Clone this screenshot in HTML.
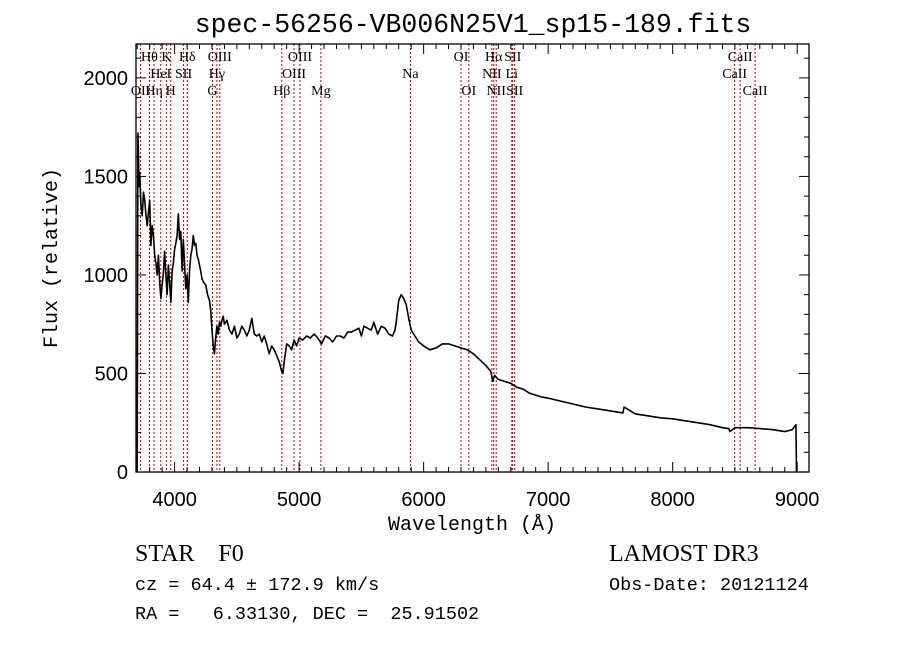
<!DOCTYPE html>
<html><head><meta charset="utf-8"><style>
html,body{margin:0;padding:0;background:#fff;}
svg{display:block;}
text{font-family:"Liberation Serif",serif;fill:#000;white-space:pre;}
</style></head><body>
<svg id="chart" width="900" height="649" viewBox="0 0 900 649" xmlns="http://www.w3.org/2000/svg" xml:space="preserve">
<rect x="0" y="0" width="900" height="649" fill="#fff"/>
<text x="473" y="32" font-size="26.5" text-anchor="middle" style="font-family:'Liberation Mono',monospace">spec-56256-VB006N25V1_sp15-189.fits</text>
<g id="lines"></g>
<g id="spec"></g>
<g id="axes"></g>
<text x="472" y="530" font-size="20" text-anchor="middle" style="font-family:'Liberation Mono',monospace">Wavelength (Å)</text>
<text transform="translate(57,258) rotate(-90)" font-size="20" text-anchor="middle" style="font-family:'Liberation Mono',monospace">Flux (relative)</text>
<text x="135" y="561" font-size="24">STAR    F0</text>
<text x="135" y="590" font-size="18.5" style="font-family:'Liberation Mono',monospace">cz = 64.4 ± 172.9 km/s</text>
<text x="135" y="619" font-size="18.5" style="font-family:'Liberation Mono',monospace">RA =   6.33130, DEC =  25.91502</text>
<text x="609" y="561" font-size="24">LAMOST DR3</text>
<text x="609" y="590" font-size="18.5" style="font-family:'Liberation Mono',monospace">Obs-Date: 20121124</text>
</svg>
<script>
const wavelengths=[3700,3705,3710,3715,3720,3730,3740,3750,3760,3770,3780,3790,3800,3810,3820,3830,3840,3850,3860,3870,3880,3890,3900,3910,3920,3930,3940,3950,3960,3970,3980,3990,4000,4010,4020,4030,4040,4050,4060,4070,4080,4090,4100,4110,4120,4130,4140,4150,4160,4170,4180,4190,4200,4210,4220,4235,4250,4265,4280,4290,4300,4310,4320,4330,4340,4350,4360,4370,4380,4390,4400,4420,4440,4460,4480,4500,4520,4540,4560,4580,4600,4620,4640,4660,4680,4700,4720,4740,4760,4780,4800,4820,4840,4860,4870,4880,4900,4920,4940,4960,4980,5000,5030,5060,5090,5120,5150,5180,5210,5240,5270,5300,5330,5360,5390,5420,5450,5480,5500,5520,5550,5580,5600,5630,5660,5690,5720,5750,5770,5780,5800,5820,5840,5860,5880,5900,5930,5960,6000,6050,6100,6150,6200,6250,6300,6350,6400,6450,6500,6540,6555,6570,6600,6650,6700,6750,6800,6850,6900,6950,7000,7100,7200,7300,7400,7500,7600,7610,7700,7800,7900,8000,8100,8200,8300,8400,8450,8460,8500,8600,8700,8800,8900,8960,8990,8995];
const fluxes=[0,1720,1600,1450,1520,1350,1300,1420,1380,1300,1250,1320,1380,1150,1250,1200,1100,1060,1000,1100,960,880,950,1010,1120,1000,900,1050,960,860,1020,1060,1130,1160,1200,1310,1180,1220,1020,1180,1050,930,1000,860,1020,1100,1130,1200,1150,1160,1100,1080,1050,1020,980,960,950,900,870,820,720,640,600,680,740,700,760,740,770,790,750,770,720,700,740,680,700,740,720,690,720,780,700,690,700,660,690,650,600,640,620,590,560,510,500,560,650,640,620,670,640,680,670,690,680,700,680,650,690,680,660,690,690,680,710,710,720,730,690,740,730,720,760,700,740,730,700,690,720,760,870,900,880,850,780,720,690,660,640,620,630,650,650,640,630,620,600,570,540,510,460,490,470,460,450,430,420,400,390,380,375,360,345,330,320,310,300,330,295,285,275,270,260,250,240,225,220,205,225,225,220,215,205,215,240,0];
const xTicks=[4000,5000,6000,7000,8000,9000];
const yTicks=[0,500,1000,1500,2000];
const lineWaves=[3727,3798,3835,3889,3934,3969,4072,4102,4304,4340,4363,4861,4959,5007,5175,5894,6300,6363,6548,6563,6583,6708,6716,6731,8498,8542,8662];
const lineLabels=[
 ["OII",3727,2],["Hθ",3798,0],["Hη",3835,2],["HeI",3889,1],["K",3934,0],["H",3969,2],["SII",4072,1],["Hδ",4102,0],
 ["G",4304,2],["Hγ",4340,1],["OIII",4363,0],["Hβ",4861,2],["OIII",4959,1],["OIII",5007,0],["Mg",5175,2],["Na",5894,1],
 ["OI",6300,0],["OI",6363,2],["NII",6548,1],["Hα",6563,0],["NII",6583,2],["Li",6708,1],["SII",6716,0],["SII",6731,2],
 ["CaII",8498,1],["CaII",8542,0],["CaII",8662,2]];
const X0=136,X1=809,Y0=44,Y1=472,WMIN=3690,WMAX=9095,FMAX=2172;
const sx=w=>X0+(w-WMIN)/(WMAX-WMIN)*(X1-X0);
const sy=f=>Y1-f/FMAX*(Y1-Y0);
const NS="http://www.w3.org/2000/svg";
function mk(tag,attrs,parent){const e=document.createElementNS(NS,tag);for(const k in attrs)e.setAttribute(k,attrs[k]);parent.appendChild(e);return e;}
const gL=document.getElementById('lines'),gS=document.getElementById('spec'),gA=document.getElementById('axes');
lineWaves.forEach(w=>{const l=mk('line',{x1:sx(w),x2:sx(w),y1:Y0,y2:Y1,stroke:'#c00000','stroke-width':1,'stroke-dasharray':'2,2'},gL);

});
const rowY=[61,78,95];
lineLabels.forEach(d=>{const t=mk('text',{x:sx(d[1]),y:rowY[d[2]],'font-size':14,'text-anchor':'middle'},gL);t.textContent=d[0];

});
let p='';wavelengths.forEach((w,i)=>{p+=(i?'L':'M')+sx(w).toFixed(1)+','+sy(fluxes[i]).toFixed(1);});
const path=mk('path',{d:p,fill:'none',stroke:'#000','stroke-width':1.6,'stroke-linejoin':'round'},gS);


const frame=mk('rect',{x:X0,y:Y0,width:X1-X0,height:Y1-Y0,fill:'none',stroke:'#000','stroke-width':1.3},gA);


for(let w=3700;w<=9000;w+=100){const big=w%1000===0,len=big?10:5;
mk('line',{x1:sx(w),x2:sx(w),y1:Y1,y2:Y1-len,stroke:'#000'},gA);mk('line',{x1:sx(w),x2:sx(w),y1:Y0,y2:Y0+len,stroke:'#000'},gA);}
for(let f=0;f<=2100;f+=100){const big=f%500===0,len=big?10:5;
mk('line',{x1:X0,x2:X0+len,y1:sy(f),y2:sy(f),stroke:'#000'},gA);mk('line',{x1:X1,x2:X1-len,y1:sy(f),y2:sy(f),stroke:'#000'},gA);}
xTicks.forEach(w=>{const t=mk('text',{x:sx(w),y:Y1+34,'font-size':20,'text-anchor':'middle',style:"font-family:'Liberation Sans',sans-serif"},gA);t.textContent=w;

});
yTicks.forEach(f=>{const t=mk('text',{x:X0-8,y:sy(f)+7,'font-size':20,'text-anchor':'end',style:"font-family:'Liberation Sans',sans-serif"},gA);t.textContent=f;

});
</script>
</body></html>
